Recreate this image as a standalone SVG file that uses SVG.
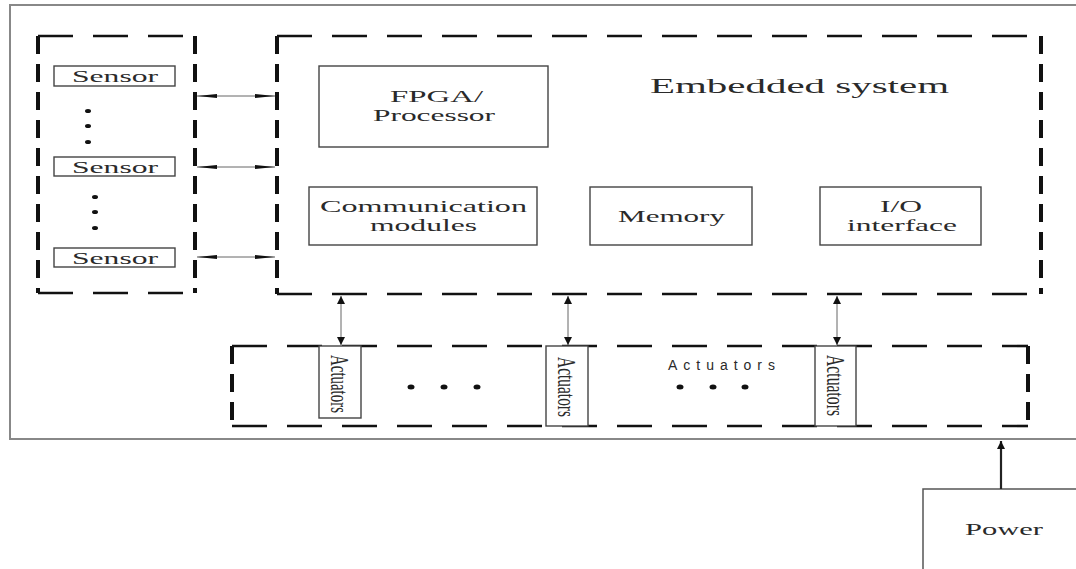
<svg xmlns="http://www.w3.org/2000/svg" width="1076" height="569" viewBox="0 0 1076 569">
<style>
.serif{font-family:"Liberation Serif","Times New Roman",serif;fill:#2a2a2a}
.sans{font-family:"Liberation Sans",Arial,sans-serif;fill:#2a2a2a}
.box{fill:#fff;stroke:#444;stroke-width:1.4}
.dh{stroke:#111;stroke-width:2.6;stroke-dasharray:35 20;fill:none}
.dv{stroke:#111;stroke-width:4;stroke-dasharray:18 10;fill:none}
.thin{stroke:#666;stroke-width:1;fill:none}
.dot{fill:#111}
</style>
<defs>
<marker id="ah" viewBox="0 0 10 10" refX="10" refY="5" markerWidth="8" markerHeight="15" markerUnits="userSpaceOnUse" orient="auto-start-reverse">
<path d="M0,0 L10,5 L0,10 Z" fill="#111"/>
</marker>
</defs>
<rect width="1076" height="569" fill="#fff"/>
<path d="M1080,5 H10 V439 H1080" fill="none" stroke="#888" stroke-width="2"/>

<g id="sensor-group">
<line class="dh" x1="38" y1="36" x2="195" y2="36"/>
<line class="dh" x1="38" y1="293" x2="195" y2="293"/>
<line class="dv" x1="38" y1="36" x2="38" y2="293"/>
<line class="dv" x1="195" y1="36" x2="195" y2="293"/>
</g>
<g id="sensor1"><rect class="box" x="54" y="66" width="121" height="20"/><text class="serif" x="72" y="82" font-size="17" textLength="86" lengthAdjust="spacingAndGlyphs">Sensor</text></g>
<g id="sensor2"><rect class="box" x="54" y="157" width="121" height="19"/><text class="serif" x="72" y="173" font-size="17" textLength="86" lengthAdjust="spacingAndGlyphs">Sensor</text></g>
<g id="sensor3"><rect class="box" x="54" y="248" width="121" height="19"/><text class="serif" x="72" y="264" font-size="17" textLength="86" lengthAdjust="spacingAndGlyphs">Sensor</text></g>
<g id="sensor-dots">
<ellipse class="dot" cx="88" cy="111" rx="3" ry="2"/><ellipse class="dot" cx="88" cy="126" rx="3" ry="2"/><ellipse class="dot" cx="88" cy="142" rx="3" ry="2"/>
<ellipse class="dot" cx="95" cy="197" rx="3" ry="2"/><ellipse class="dot" cx="95" cy="212" rx="3" ry="2"/><ellipse class="dot" cx="95" cy="228" rx="3" ry="2"/>
</g>

<g id="embedded-system">
<line class="dh" x1="277" y1="36" x2="1041" y2="36"/>
<line class="dh" x1="277" y1="294" x2="1041" y2="294"/>
<line class="dv" x1="277" y1="36" x2="277" y2="294"/>
<line class="dv" x1="1041" y1="36" x2="1041" y2="294"/>
<text class="serif" x="650" y="93" font-size="22" textLength="299" lengthAdjust="spacingAndGlyphs">Embedded system</text>
</g>
<g id="fpga"><rect class="box" x="319" y="66" width="229" height="81"/>
<text class="serif" x="390" y="102" font-size="17" textLength="93" lengthAdjust="spacingAndGlyphs">FPGA/</text>
<text class="serif" x="373" y="121" font-size="17" textLength="122" lengthAdjust="spacingAndGlyphs">Processor</text></g>
<g id="comm"><rect class="box" x="309" y="187" width="228" height="58"/>
<text class="serif" x="320" y="212" font-size="16" textLength="207" lengthAdjust="spacingAndGlyphs">Communication</text>
<text class="serif" x="370" y="231" font-size="16" textLength="107" lengthAdjust="spacingAndGlyphs">modules</text></g>
<g id="memory"><rect class="box" x="590" y="187" width="162" height="58"/>
<text class="serif" x="618" y="222" font-size="17" textLength="107" lengthAdjust="spacingAndGlyphs">Memory</text></g>
<g id="io"><rect class="box" x="820" y="187" width="161" height="58"/>
<text class="serif" x="880" y="212" font-size="16" textLength="42" lengthAdjust="spacingAndGlyphs">I/O</text>
<text class="serif" x="847" y="231" font-size="16" textLength="110" lengthAdjust="spacingAndGlyphs">interface</text></g>

<g id="actuator-group">
<line class="dh" x1="232" y1="346" x2="1028" y2="346"/>
<line class="dh" x1="232" y1="426" x2="1028" y2="426"/>
<line class="dv" x1="232" y1="346" x2="232" y2="426"/>
<line class="dv" x1="1028" y1="346" x2="1028" y2="426"/>
<text class="sans" x="668" y="370" font-size="14" textLength="107" lengthAdjust="spacing">Actuators</text>
<ellipse class="dot" cx="411" cy="387" rx="3.5" ry="2.5"/><ellipse class="dot" cx="444" cy="387" rx="3.5" ry="2.5"/><ellipse class="dot" cx="477" cy="387" rx="3.5" ry="2.5"/>
<ellipse class="dot" cx="680" cy="387" rx="3.5" ry="2.5"/><ellipse class="dot" cx="713" cy="387" rx="3.5" ry="2.5"/><ellipse class="dot" cx="745" cy="387" rx="3.5" ry="2.5"/>
</g>
<g id="actuator1"><rect class="box" x="319" y="346" width="42" height="72"/>
<text class="serif" font-size="15" textLength="58" lengthAdjust="spacingAndGlyphs" transform="translate(331,355) scale(1.7,1) rotate(90)">Actuators</text></g>
<g id="actuator2"><rect class="box" x="546" y="346" width="42" height="80"/>
<text class="serif" font-size="15" textLength="60" lengthAdjust="spacingAndGlyphs" transform="translate(558,357) scale(1.7,1) rotate(90)">Actuators</text></g>
<g id="actuator3"><rect class="box" x="815" y="346" width="41" height="80"/>
<text class="serif" font-size="15" textLength="61" lengthAdjust="spacingAndGlyphs" transform="translate(827,355) scale(1.7,1) rotate(90)">Actuators</text></g>

<g id="power"><rect x="923" y="489" width="160" height="100" fill="#fff" stroke="#555" stroke-width="1.5"/>
<text class="serif" x="965" y="535" font-size="17" textLength="78" lengthAdjust="spacingAndGlyphs">Power</text></g>

<g id="connectors">
<line class="thin" x1="197" y1="96" x2="275" y2="96"/>
<polygon points="197,96 217,94 217,98" fill="#111"/><polygon points="275,96 255,94 255,98" fill="#111"/>
<line class="thin" x1="197" y1="167" x2="275" y2="167"/>
<polygon points="197,167 217,165 217,169" fill="#111"/><polygon points="275,167 255,165 255,169" fill="#111"/>
<line class="thin" x1="197" y1="257" x2="275" y2="257"/>
<polygon points="197,257 217,255 217,259" fill="#111"/><polygon points="275,257 255,255 255,259" fill="#111"/>
<line class="thin" x1="341" y1="296" x2="341" y2="345" marker-start="url(#ah)" marker-end="url(#ah)"/>
<line class="thin" x1="568" y1="296" x2="568" y2="345" marker-start="url(#ah)" marker-end="url(#ah)"/>
<line class="thin" x1="837" y1="296" x2="837" y2="345" marker-start="url(#ah)" marker-end="url(#ah)"/>
<line x1="1001" y1="489" x2="1001" y2="441" stroke="#222" stroke-width="2.2" marker-end="url(#ah)"/>
</g>
</svg>
